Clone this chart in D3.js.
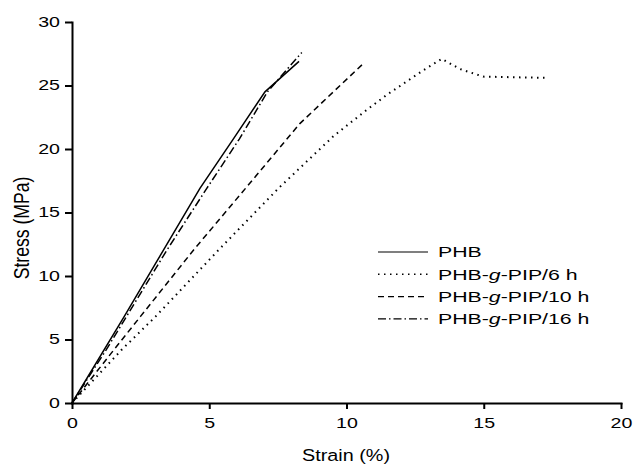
<!DOCTYPE html>
<html>
<head>
<meta charset="utf-8">
<script src="https://cdn.jsdelivr.net/npm/d3@7"></script>
<style>
  body { margin: 0; background: #fff; }
  svg { font-family: "Liberation Sans", Arial, sans-serif; }
  .axis path, .axis line { stroke: #000; stroke-width: 2; }
  .axis text { font-size: 14px; fill: #000; }
</style>
</head>
<body>
<svg id="chart" width="633" height="466"></svg>
<script>
// series names
var seriesNames = ['PHB', 'PHB-g-PIP/6 h', 'PHB-g-PIP/10 h', 'PHB-g-PIP/16 h'];

// strain (%) / stress (MPa) points
var phbStrain = [0, 1.9, 4.66, 5.88, 7.03, 8.27];
var phbStress = [0, 6.8, 16.9, 20.8, 24.5, 26.9];

var pip6Strain = [0, 1.8, 3.04, 5.34, 7.52, 9.52, 10.73, 11.46, 12.8, 13.47, 14.13, 14.98, 17.23];
var pip6Stress = [0, 4.17, 6.8, 12.05, 16.9, 21.0, 23.07, 24.25, 26.2, 27.1, 26.3, 25.7, 25.6];

var pip10Strain = [0, 1.52, 2.49, 4.43, 6.36, 8.3, 9.52, 10.6];
var pip10Stress = [0, 4.17, 6.8, 12.05, 17.0, 22.0, 24.5, 26.7];

var pip16Strain = [0, 1.25, 3.46, 4.91, 6.1, 7.12, 8.37];
var pip16Stress = [0, 4.2, 12.05, 16.9, 20.8, 24.5, 27.6];

var xTicks = [0, 5, 10, 15, 20];
var yTicks = [0, 5, 10, 15, 20, 25, 30];

var dashes = ['none', '1.5,4.5', '6,4', '8,3,1.5,3'];

var svg = d3.select('#chart');
var x = d3.scaleLinear().domain([0, 20]).range([72, 621]);
var y = d3.scaleLinear().domain([0, 30]).range([403, 22]);

// the scanned figure is wider than it is tall, so text is stretched sideways
function stretch(sel, k) {
  sel.each(function () {
    var t = d3.select(this);
    var xv = +t.attr('x') || 0;
    t.attr('x', xv / k).attr('transform', 'scale(' + k + ',1)');
  });
}

// axes
var gx = svg.append('g')
  .attr('class', 'axis')
  .attr('transform', 'translate(0,' + y(0) + ')')
  .call(d3.axisBottom(x).tickValues(xTicks).tickSize(6).tickPadding(9).tickSizeOuter(0));
stretch(gx.selectAll('text'), 1.4);

var gy = svg.append('g')
  .attr('class', 'axis')
  .attr('transform', 'translate(' + x(0) + ',0)')
  .call(d3.axisLeft(y).tickValues(yTicks).tickSize(7).tickPadding(5).tickSizeOuter(0));
stretch(gy.selectAll('text'), 1.4);

svg.selectAll('.axis path').attr('stroke-linecap', 'square');

// axis titles
svg.append('text')
  .attr('transform', 'translate(346,461) scale(1.2,1)')
  .attr('text-anchor', 'middle')
  .style('font-size', '16.5px')
  .text('Strain (%)');

svg.append('text')
  .attr('transform', 'translate(29,228) scale(1.3,1) rotate(-90)')
  .attr('text-anchor', 'middle')
  .style('font-size', '17.6px')
  .text('Stress (MPa)');

// curves
var allSeries = [
  { xs: phbStrain, ys: phbStress },
  { xs: pip6Strain, ys: pip6Stress },
  { xs: pip10Strain, ys: pip10Stress },
  { xs: pip16Strain, ys: pip16Stress }
];

var line = d3.line()
  .x(function (d) { return x(d[0]); })
  .y(function (d) { return y(d[1]); });

allSeries.forEach(function (s, i) {
  var pts = s.xs.map(function (v, j) { return [v, s.ys[j]]; });
  svg.append('path')
    .datum(pts)
    .attr('d', line)
    .attr('fill', 'none')
    .attr('stroke', '#000')
    .attr('stroke-width', i == 1 ? 2 : 1.5)
    .attr('stroke-dasharray', dashes[i]);
});

// legend
var legend = svg.append('g').attr('transform', 'translate(378,252)');
seriesNames.forEach(function (name, i) {
  var row = legend.append('g').attr('transform', 'translate(0,' + i * 22.3 + ')');
  row.append('line')
    .attr('x1', 0).attr('x2', 50)
    .attr('stroke', '#000')
    .attr('stroke-width', i == 1 ? 1.5 : 1.2)
    .attr('stroke-dasharray', dashes[i]);
  var t = row.append('text')
    .attr('transform', 'translate(60,0) scale(1.42,1)')
    .attr('dy', '0.35em')
    .style('font-size', '15px');
  if (name.indexOf('-g-') > 0) {
    var parts = name.split('-g-');
    t.append('tspan').text(parts[0] + '-');
    t.append('tspan').style('font-style', 'italic').text('g');
    t.append('tspan').text('-' + parts[1]);
  } else {
    t.text(name);
  }
});
</script>
</body>
</html>
